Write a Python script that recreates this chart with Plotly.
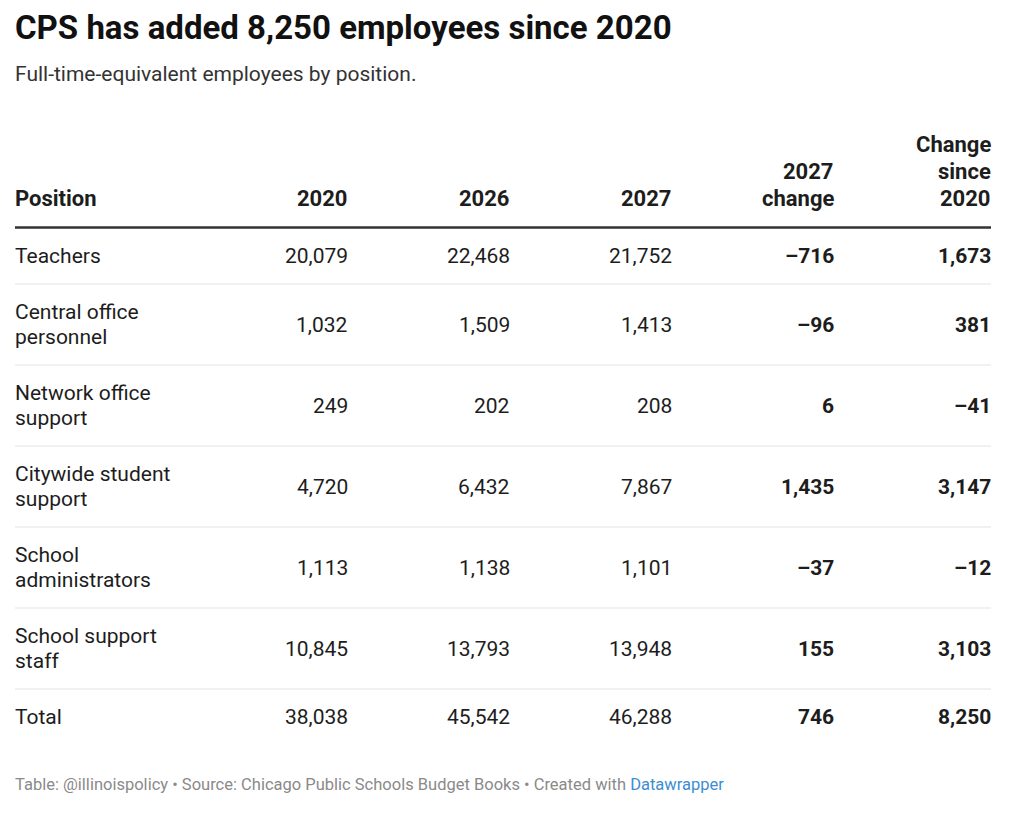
import plotly.graph_objects as go

# ---- data ----
positions = ["Teachers", "Central office<br>personnel", "Network office<br>support",
             "Citywide student<br>support", "School<br>administrators",
             "School support<br>staff", "Total"]
y2020 = [20079, 1032, 249, 4720, 1113, 10845, 38038]
y2026 = [22468, 1509, 202, 6432, 1138, 13793, 45542]
y2027 = [21752, 1413, 208, 7867, 1101, 13948, 46288]
change_2027 = [-716, -96, 6, 1435, -37, 155, 746]
change_since_2020 = [1673, 381, -41, 3147, -12, 3103, 8250]
headers = ["Position", "2020", "2026", "2027", "2027<br>change", "Change<br>since<br>2020"]

title = "CPS has added 8,250 employees since 2020"
subtitle = "Full-time-equivalent employees by position."
footer = ("Table: @illinoispolicy • Source: Chicago Public Schools Budget Books • "
          "Created with <span style='color:#3d8dd3'>Datawrapper</span>")

# ---- layout constants (page pixel coordinates) ----
W, H = 1024, 835
OFF = 8  # browser body margin
FONT = "Roboto"
TXT = "#1d1d1d"
col_x = [13, 350, 512, 674, 836, 993]
left, right = 15, 991
header_line_y = 227.5
pad, line_h = 32, 24.5
header_base, header_lh = 198, 27
BODY, HEAD = 21, 22


def fmt(v):
    s = f"{abs(v):,}"
    return ("\u2013" + s) if v < 0 else s


fig = go.Figure()
fig.add_trace(go.Scatter(x=[OFF, W - OFF], y=[OFF, H - OFF], mode="markers",
                         marker=dict(opacity=0), hoverinfo="skip", showlegend=False))

ann = []
shapes = []

# title / subtitle
ann.append(dict(x=13, y=27, text=f"<b>{title}</b>", xanchor="left", yanchor="middle",
                font=dict(family=FONT, size=33, color="#111111"), showarrow=False))
ann.append(dict(x=13, y=74, text=subtitle, xanchor="left", yanchor="middle",
                font=dict(family=FONT, size=21, color="#333333"), showarrow=False))

# headers (each line placed separately, bottom-aligned)
for i, h in enumerate(headers):
    lines = h.split("<br>")
    for k, ln in enumerate(reversed(lines)):
        ann.append(dict(x=col_x[i], y=header_base - k * header_lh, text=f"<b>{ln}</b>",
                        xanchor="left" if i == 0 else "right", yanchor="middle",
                        font=dict(family=FONT, size=HEAD, color=TXT), showarrow=False))
shapes.append(dict(type="line", x0=left, x1=right, y0=header_line_y, y1=header_line_y,
                   line=dict(color="#333333", width=2.5), xref="x", yref="y"))

# body rows
top = header_line_y
cols = [y2020, y2026, y2027, change_2027, change_since_2020]
for r, label in enumerate(positions):
    lines = label.split("<br>")
    n = len(lines)
    hgt = pad + line_h * n
    cy = top + hgt / 2
    for k, ln in enumerate(lines):
        ly = cy + (k - (n - 1) / 2) * line_h
        ann.append(dict(x=col_x[0], y=ly, text=ln, xanchor="left", yanchor="middle",
                        font=dict(family=FONT, size=BODY, color=TXT), showarrow=False))
    for c, arr in enumerate(cols):
        bold = c >= 3
        t = fmt(arr[r])
        ann.append(dict(x=col_x[c + 1], y=cy, text=f"<b>{t}</b>" if bold else t,
                        xanchor="right", yanchor="middle",
                        font=dict(family=FONT, size=BODY, color=TXT), showarrow=False))
    top += hgt
    if r < len(positions) - 1:
        shapes.append(dict(type="line", x0=left, x1=right, y0=top, y1=top,
                           line=dict(color="#ececec", width=1.5), xref="x", yref="y"))

# footer
ann.append(dict(x=13, y=784, text=footer, xanchor="left", yanchor="middle",
                font=dict(family=FONT, size=16.5, color="#8a8a8a"), showarrow=False))

fig.update_layout(
    width=W - 2 * OFF, height=H - 2 * OFF, margin=dict(l=0, r=0, t=0, b=0),
    paper_bgcolor="white", plot_bgcolor="white",
    xaxis=dict(range=[OFF, W - OFF], visible=False, fixedrange=True),
    yaxis=dict(range=[H - OFF, OFF], visible=False, fixedrange=True),
    annotations=ann, shapes=shapes, showlegend=False,
)

fig.write_html("out.html")
